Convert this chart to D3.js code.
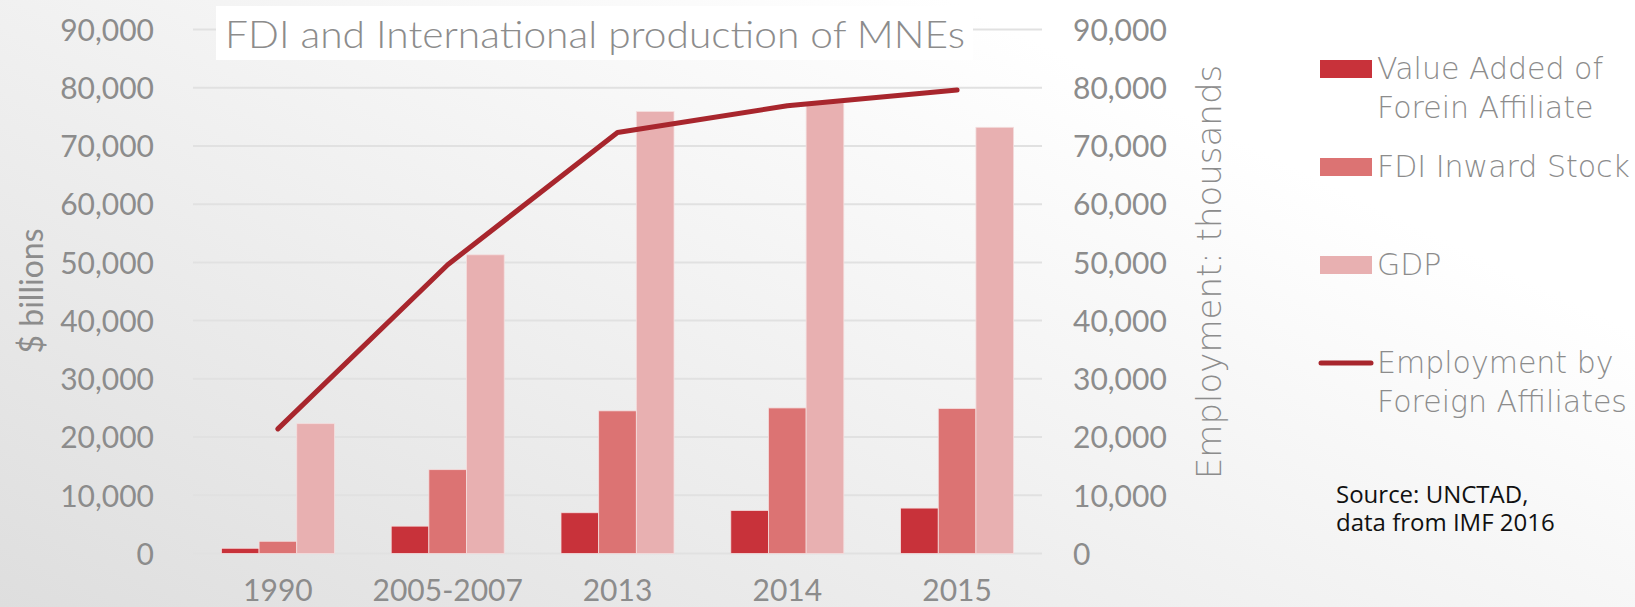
<!DOCTYPE html>
<html>
<head>
<meta charset="utf-8">
<script src="https://cdn.jsdelivr.net/npm/d3@7"></script>
<style>
  body { margin: 0; }
  svg { display: block; }
  text { font-family: Lato, "Open Sans", sans-serif; }
</style>
</head>
<body>
<div id="chart"></div>
<script>
// Data
const categories = ["1990", "2005-2007", "2013", "2014", "2015"];
const valueAdded = [900, 4700, 7000, 7400, 7800];          // $ billions
const fdiStock = [2100, 14400, 24500, 25000, 24900];       // $ billions
const gdp = [22300, 51300, 75900, 77400, 73200];           // $ billions
const employment = [21400, 49600, 72300, 76900, 79600];    // thousands
const yTicks = [0, 10000, 20000, 30000, 40000, 50000, 60000, 70000, 80000, 90000];

const barSeries = [valueAdded, fdiStock, gdp];
const barColors = ["#c8323a", "#dc7373", "#e8b0b1"];
const lineColor = "#a8262d";
const textColor = "#8c8c8c";

const W = 1635, H = 607;
const plot = { left: 193, right: 1042, top: 29.5, bottom: 553.5 };

const svg = d3.select("#chart")
  .append("svg")
  .attr("width", W)
  .attr("height", H);

// Background gradient
const defs = svg.append("defs");
const grad = defs.append("linearGradient")
  .attr("id", "bg")
  .attr("x1", "0").attr("y1", "1")
  .attr("x2", "0.85").attr("y2", "0.35");
grad.append("stop").attr("offset", "0").attr("stop-color", "#dedede");
grad.append("stop").attr("offset", "1").attr("stop-color", "#ffffff");
svg.append("rect")
  .attr("width", W).attr("height", H)
  .attr("fill", "url(#bg)");

// Scales
const x = d3.scaleBand()
  .domain(categories)
  .range([plot.left, plot.right])
  .paddingInner(0.3345)
  .paddingOuter(0.3345 / 2);

const xs = d3.scaleBand()
  .domain(d3.range(barSeries.length))
  .range([0, x.bandwidth()]);

const y = d3.scaleLinear().domain([0, 90000]).range([plot.bottom, plot.top]);
const y2 = d3.scaleLinear().domain([0, 90000]).range([plot.bottom, plot.top]);

// Gridlines
svg.append("g")
  .selectAll("line")
  .data(yTicks)
  .enter().append("line")
  .attr("x1", plot.left)
  .attr("x2", plot.right)
  .attr("y1", d => y(d))
  .attr("y2", d => y(d))
  .attr("stroke", "#e1e1e1")
  .attr("stroke-width", 2);

// Left axis
const leftAxis = svg.append("g")
  .attr("transform", "translate(" + (plot.left - 39) + ",0)")
  .call(d3.axisLeft(y).tickValues(yTicks).tickSize(0).tickPadding(0).tickFormat(d3.format(",")));
leftAxis.select(".domain").remove();
leftAxis.selectAll("text")
  .attr("fill", textColor)
  .style("font-size", "30px")
  .attr("dy", "0.36em");

// Right axis
const rightAxis = svg.append("g")
  .attr("transform", "translate(" + 1073 + ",0)")
  .call(d3.axisRight(y2).tickValues(yTicks).tickSize(0).tickPadding(0).tickFormat(d3.format(",")));
rightAxis.select(".domain").remove();
rightAxis.selectAll("text")
  .attr("fill", textColor)
  .style("font-size", "30px")
  .attr("dy", "0.36em");

// X axis labels
const xAxis = svg.append("g")
  .attr("transform", "translate(0," + 601 + ")")
  .call(d3.axisBottom(x).tickSize(0).tickPadding(0));
xAxis.select(".domain").remove();
xAxis.selectAll("text")
  .attr("fill", textColor)
  .style("font-size", "30px")
  .attr("dy", "0");

// Bars
barSeries.forEach((values, s) => {
  svg.append("g")
    .selectAll("rect")
    .data(values)
    .enter().append("rect")
    .attr("x", (d, i) => x(categories[i]) + xs(s))
    .attr("y", d => y(d))
    .attr("width", xs.bandwidth())
    .attr("height", d => y(0) - y(d))
    .attr("fill", barColors[s])
    .attr("stroke", "#f4dede")
    .attr("stroke-width", 0.8);
});

// Employment line
const line = d3.line()
  .x((d, i) => x(categories[i]) + x.bandwidth() / 2)
  .y(d => y2(d));

svg.append("path")
  .datum(employment)
  .attr("d", line)
  .attr("fill", "none")
  .attr("stroke", lineColor)
  .attr("stroke-width", 5)
  .attr("stroke-linecap", "round")
  .attr("stroke-linejoin", "round");

// Title
svg.append("rect")
  .attr("x", 216).attr("y", 6)
  .attr("width", 757).attr("height", 54)
  .attr("fill", "#ffffff");
svg.append("text")
  .attr("x", 225)
  .attr("y", 48)
  .attr("fill", textColor)
  .attr("textLength", 740)
  .attr("lengthAdjust", "spacingAndGlyphs")
  .style("font-size", "38px")
  .style("font-weight", 300)
  .text("FDI and International production of MNEs");

// Axis titles
svg.append("text")
  .attr("transform", "translate(43,291) rotate(-90)")
  .attr("text-anchor", "middle")
  .attr("fill", textColor)
  .style("font-size", "32px")
  .text("$ billions");

svg.append("text")
  .attr("transform", "translate(1221,272) rotate(-90)")
  .attr("text-anchor", "middle")
  .attr("fill", textColor)
  .style("font-family", "'DejaVu Sans', sans-serif")
  .style("font-weight", 200)
  .style("font-size", "34px")
  .text("Employment: thousands");

// Legend
const legendItems = [
  { lines: ["Value Added of", "Forein Affiliate"], color: barColors[0], type: "rect", y: 69 },
  { lines: ["FDI Inward Stock"], color: barColors[1], type: "rect", y: 167 },
  { lines: ["GDP"], color: barColors[2], type: "rect", y: 265 },
  { lines: ["Employment by", "Foreign Affiliates"], color: lineColor, type: "line", y: 363 }
];

const legend = svg.append("g").attr("class", "legend");

legendItems.forEach(item => {
  if (item.type === "rect") {
    legend.append("rect")
      .attr("x", 1320).attr("y", item.y - 9)
      .attr("width", 52).attr("height", 18)
      .attr("fill", item.color);
  } else {
    legend.append("line")
      .attr("x1", 1321).attr("x2", 1371)
      .attr("y1", item.y).attr("y2", item.y)
      .attr("stroke", item.color)
      .attr("stroke-width", 5)
      .attr("stroke-linecap", "round");
  }
  item.lines.forEach((t, j) => {
    legend.append("text")
      .attr("x", 1377)
      .attr("y", item.y + 10 + j * 39)
      .attr("fill", textColor)
      .style("font-family", "'DejaVu Sans', sans-serif")
      .style("font-weight", 200)
      .style("font-size", "30px")
      .text(t);
  });
});

// Source note
svg.append("text")
  .attr("x", 1336).attr("y", 503)
  .attr("fill", "#111111")
  .style("font-family", "'Open Sans', sans-serif")
  .style("font-size", "24px")
  .text("Source: UNCTAD,");
svg.append("text")
  .attr("x", 1336).attr("y", 531)
  .attr("fill", "#111111")
  .style("font-family", "'Open Sans', sans-serif")
  .style("font-size", "24px")
  .text("data from IMF 2016");
</script>
</body>
</html>
